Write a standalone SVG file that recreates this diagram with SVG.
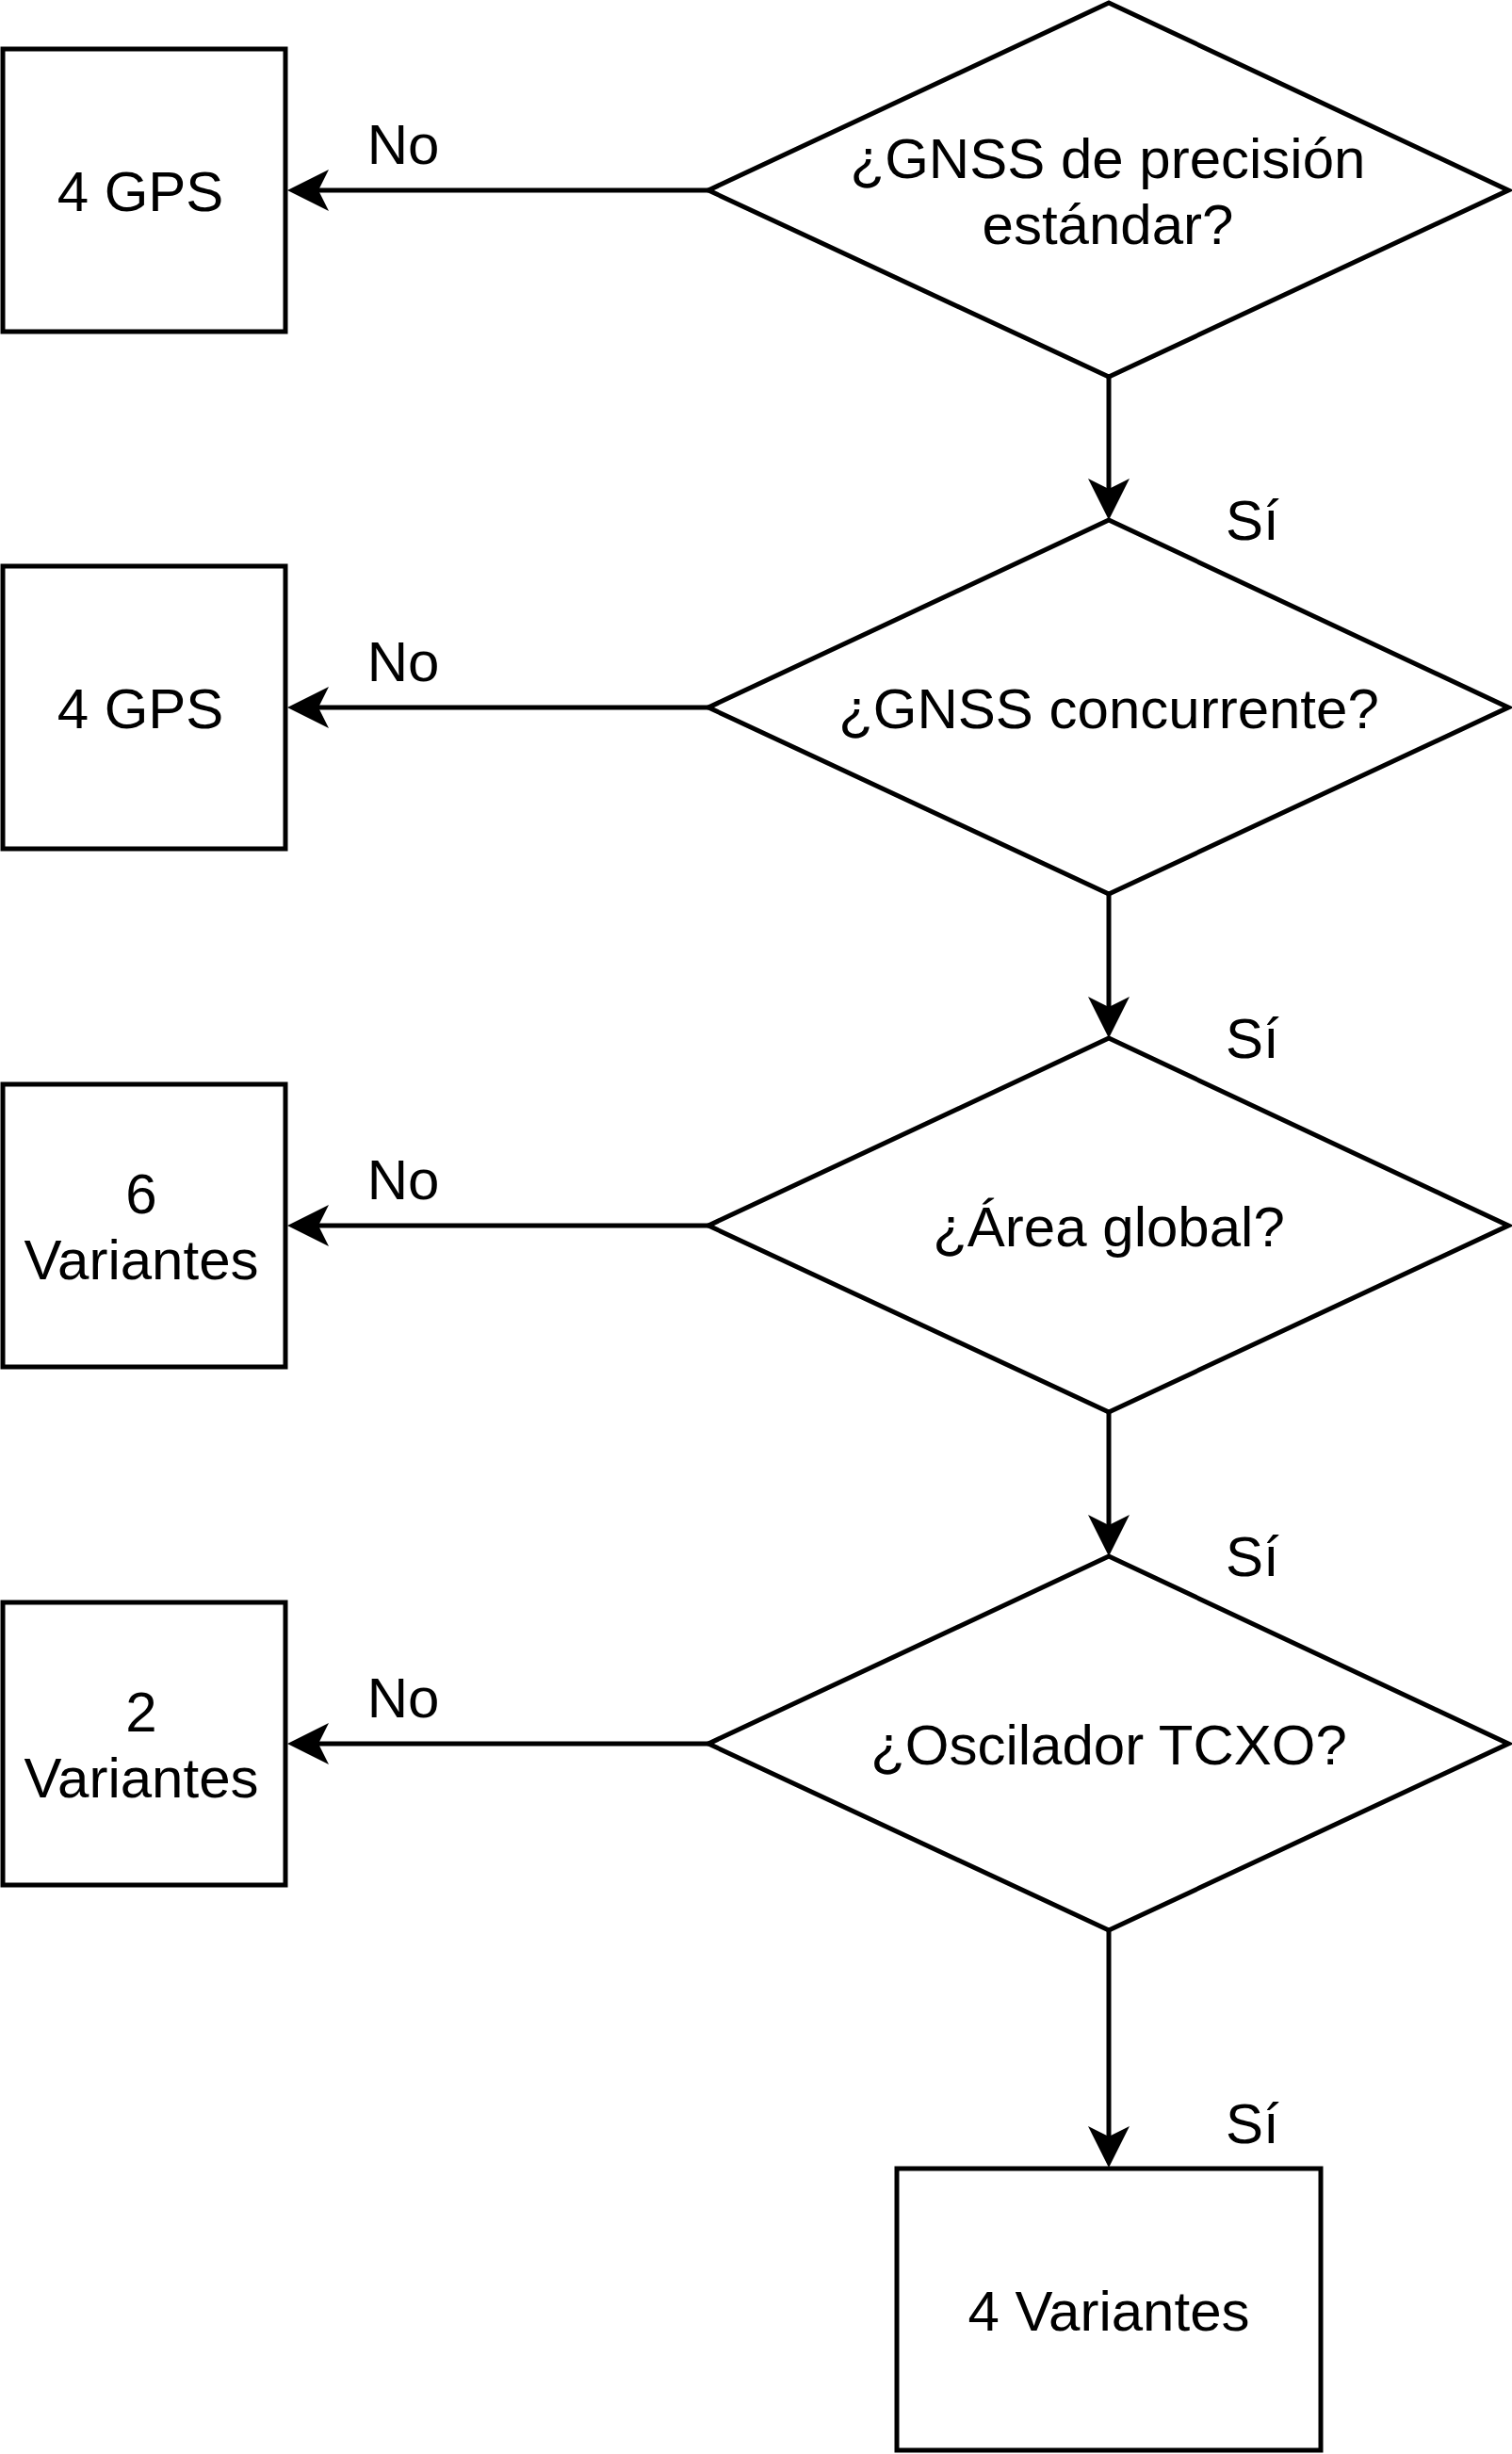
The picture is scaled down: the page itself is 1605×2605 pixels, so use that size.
<svg xmlns="http://www.w3.org/2000/svg" width="1605" height="2605" viewBox="0 0 1605 2605">
<style>
.box{fill:#fff;stroke:#000;stroke-width:5}
.ln{fill:none;stroke:#000;stroke-width:5}
text{font-family:"Liberation Sans",Arial,sans-serif;font-size:60px;fill:#000;text-anchor:middle}
.lbl{text-anchor:start}
</style>
<defs>
<marker id="arr" viewBox="0 0 44 44" refX="11" refY="22" markerWidth="44" markerHeight="44" markerUnits="userSpaceOnUse" orient="auto">
<path d="M0,0 L44,22 L0,44 L11,22 Z" fill="#000"/>
</marker>
</defs>
<rect width="1605" height="2605" fill="#fff"/>
<g id="connectors">
<line class="ln" x1="752" y1="202" x2="338" y2="202" marker-end="url(#arr)"/>
<line class="ln" x1="752" y1="751" x2="338" y2="751" marker-end="url(#arr)"/>
<line class="ln" x1="752" y1="1301" x2="338" y2="1301" marker-end="url(#arr)"/>
<line class="ln" x1="752" y1="1851" x2="338" y2="1851" marker-end="url(#arr)"/>
<line class="ln" x1="1177" y1="400" x2="1177" y2="519" marker-end="url(#arr)"/>
<line class="ln" x1="1177" y1="949" x2="1177" y2="1069" marker-end="url(#arr)"/>
<line class="ln" x1="1177" y1="1499" x2="1177" y2="1619" marker-end="url(#arr)"/>
<line class="ln" x1="1177" y1="2049" x2="1177" y2="2268" marker-end="url(#arr)"/>
<text x="428" y="174">No</text>
<text x="428" y="723">No</text>
<text x="428" y="1273">No</text>
<text x="428" y="1823">No</text>
<text class="lbl" x="1301" y="573">Sí</text>
<text class="lbl" x="1301" y="1123">Sí</text>
<text class="lbl" x="1301" y="1673">Sí</text>
<text class="lbl" x="1301" y="2275">Sí</text>
</g>
<g id="d1">
<polygon class="box" points="1177,3 1601,202 1177,400 752,202"/>
<text x="1176" y="189">¿GNSS de precisión</text>
<text x="1176" y="259">estándar?</text>
</g>
<g id="d2">
<polygon class="box" points="1177,552 1601,751 1177,949 752,751"/>
<text x="1177" y="773">¿GNSS concurrente?</text>
</g>
<g id="d3">
<polygon class="box" points="1177,1102 1601,1301 1177,1499 752,1301"/>
<text x="1177" y="1323">¿Área global?</text>
</g>
<g id="d4">
<polygon class="box" points="1177,1652 1601,1851 1177,2049 752,1851"/>
<text x="1177" y="1873">¿Oscilador TCXO?</text>
</g>
<g id="r1">
<rect class="box" x="3" y="52" width="300" height="300"/>
<text x="149" y="224">4 GPS</text>
</g>
<g id="r2">
<rect class="box" x="3" y="601" width="300" height="300"/>
<text x="149" y="773">4 GPS</text>
</g>
<g id="r3">
<rect class="box" x="3" y="1151" width="300" height="300"/>
<text x="150" y="1288">6</text>
<text x="150" y="1358">Variantes</text>
</g>
<g id="r4">
<rect class="box" x="3" y="1701" width="300" height="300"/>
<text x="150" y="1838">2</text>
<text x="150" y="1908">Variantes</text>
</g>
<g id="r5">
<rect class="box" x="952" y="2302" width="450" height="299"/>
<text x="1177" y="2474">4 Variantes</text>
</g>
</svg>
